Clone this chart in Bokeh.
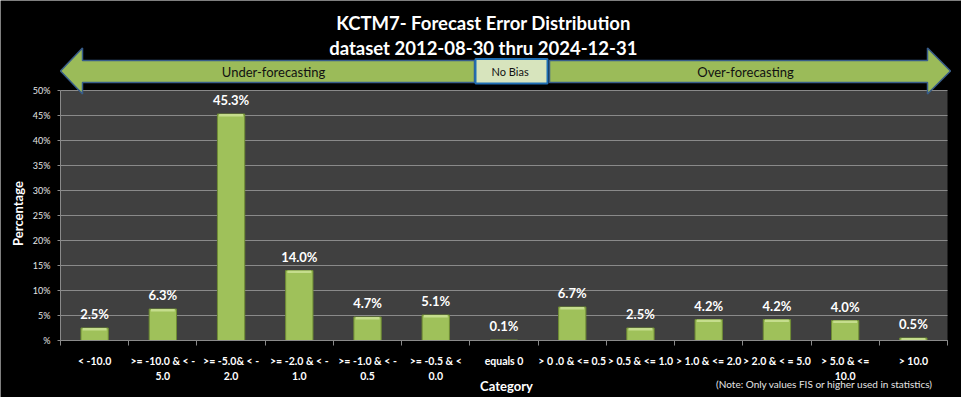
import math
from bokeh.plotting import figure
from bokeh.models import Range1d, LinearAxis, FixedTicker, Label, ColumnDataSource
from bokeh.embed import file_html
from bokeh.resources import INLINE
from bokeh.core.properties import value

# ---------------- data ----------------
categories = ["< -10.0", ">= -10.0 & < -\n5.0", ">= -5.0& < -\n2.0", ">= -2.0 & < -\n1.0",
              ">= -1.0 & < -\n0.5", ">= -0.5 & <\n0.0", "equals 0", "> 0 .0 & <= 0.5",
              "> 0.5 & <= 1.0", "> 1.0 & <= 2.0", "> 2.0 & < = 5.0", "> 5.0 & <=\n10.0", "> 10.0"]
percentages = [2.5, 6.3, 45.3, 14.0, 4.7, 5.1, 0.1, 6.7, 2.5, 4.2, 4.2, 4.0, 0.5]
y_ticks = [0, 5, 10, 15, 20, 25, 30, 35, 40, 45, 50]
y_tick_labels = ["%", "5%", "10%", "15%", "20%", "25%", "30%", "35%", "40%", "45%", "50%"]
title_lines = ["KCTM7- Forecast Error Distribution", "dataset 2012-08-30  thru 2024-12-31"]
arrow_left_text = "Under-forecasting"
arrow_right_text = "Over-forecasting"
no_bias_text = "No  Bias"
y_axis_title = "Percentage"
x_axis_title = "Category"
note_text = "(Note: Only values FIS or higher used in statistics)"

# ---------------- layout ----------------
W, H = 961, 397
PAGE = 0
n = len(categories)
plot_left_px, plot_right_px = 60, 947     # page px of plot area
plot_top_px, plot_bottom_px = 90, 340
unit_px = (plot_right_px - plot_left_px) / (2.0 * n)   # each category spans 2 x-units
px_per_pct = (plot_bottom_px - plot_top_px) / float(max(y_ticks))

def X(px):  # page pixel -> data x
    return (px - plot_left_px) / unit_px

def Y(py):  # page pixel -> data y
    return (plot_bottom_px - py) / px_per_pct

centers = [2 * i + 1 for i in range(n)]
bounds = [2 * i for i in range(n + 1)]
value_labels = [f"{v:.1f}%" for v in percentages]

FONT = "Lato"
AXIS_COLOR = "#8a8a8a"

p = figure(width=W, height=H,
           x_range=Range1d(X(PAGE), X(PAGE + W)), y_range=Range1d(Y(PAGE + H), Y(PAGE)),
           output_backend="svg", toolbar_location=None, title=None,
           x_axis_type=None, y_axis_type=None,
           min_border_left=0, min_border_right=0, min_border_top=0, min_border_bottom=0,
           background_fill_color="black", border_fill_color="black", outline_line_color=None)
p.grid.visible = False

# axes (drawn at the data origin)
xaxis = LinearAxis(ticker=FixedTicker(ticks=centers, minor_ticks=bounds),
                   major_label_overrides={c: lab for c, lab in zip(centers, categories)},
                   bounds=(0, 2 * n), fixed_location=0)
xaxis.axis_line_color = AXIS_COLOR
xaxis.major_tick_line_color = None
xaxis.major_tick_out = 0
xaxis.major_tick_in = 0
xaxis.minor_tick_line_color = AXIS_COLOR
xaxis.minor_tick_out = 5
xaxis.minor_tick_in = 0
xaxis.major_label_standoff = 9
xaxis.major_label_text_font = FONT
xaxis.major_label_text_font_style = "bold"
xaxis.major_label_text_font_size = "10.5px"
xaxis.major_label_text_color = "white"
xaxis.major_label_text_line_height = 1.25
p.add_layout(xaxis, "below")

yaxis = LinearAxis(ticker=FixedTicker(ticks=y_ticks, minor_ticks=[]),
                   major_label_overrides={t: l for t, l in zip(y_ticks, y_tick_labels)},
                   bounds=(0, max(y_ticks)), fixed_location=0)
yaxis.axis_line_color = AXIS_COLOR
yaxis.major_tick_line_color = AXIS_COLOR
yaxis.major_tick_out = 3
yaxis.major_tick_in = 0
yaxis.minor_tick_line_color = None
yaxis.major_label_standoff = 7
yaxis.major_label_text_font = FONT
yaxis.major_label_text_font_size = "9px"
yaxis.major_label_text_color = "#e6e6e6"
p.add_layout(yaxis, "left")

# plot area background + grid
p.quad(left=0, right=2 * n, bottom=0, top=max(y_ticks), fill_color="#404040", line_color=None)
p.segment(x0=[0] * len(y_ticks), x1=[2 * n] * len(y_ticks), y0=y_ticks, y1=y_ticks,
          line_color=AXIS_COLOR, line_width=1)

# bars
src = ColumnDataSource(dict(x=centers, top=percentages, label=value_labels,
                            bevel=[max(0, v - 0.5) for v in percentages]))
p.vbar(x="x", top="top", bottom=0, width=0.8, source=src,
       fill_color="#9fc15a", line_color="#6f8c35", line_width=1)
p.vbar(x="x", top="top", bottom="bevel", width=0.7, source=src,
       fill_color="#c5dd8c", line_color=None)
p.text(x="x", y="top", text="label", source=src, y_offset=-14,
       text_align="center", text_baseline="middle", text_color="white",
       text_font=value(FONT), text_font_style="bold", text_font_size="13px")

# decorative arrows (page pixel geometry)
head_top, head_bot = 47.5, 93.5
body_top, body_bot = 60, 82
lx = [60, 82, 82, 474, 474, 82, 82]
ly = [70.5, head_top, body_top, body_top, body_bot, body_bot, head_bot]
rx = [950, 927, 927, 549, 549, 927, 927]
p.patch([X(v) for v in lx], [Y(v) for v in ly], fill_color="#9BBB59", line_color="#385D8A", line_width=1.5)
p.patch([X(v) for v in rx], [Y(v) for v in ly], fill_color="#9BBB59", line_color="#385D8A", line_width=1.5)
p.quad(left=X(475), right=X(547), top=Y(58.5), bottom=Y(83), fill_color="#D7E4BD",
       line_color="#1F6EB4", line_width=2)

def add_label(text, px, py, size, bold=False, color="white", angle=0.0, align="center"):
    p.add_layout(Label(x=X(px), y=Y(py), text=text, text_font=FONT, text_font_size=size,
                       text_font_style="bold" if bold else "normal", text_color=color,
                       text_align=align, text_baseline="middle", angle=angle))

add_label(title_lines[0], 483, 22, "18.5px", bold=True)
add_label(title_lines[1], 485, 47, "18.5px", bold=True)
add_label(arrow_left_text, 273, 71, "13px", color="#111111")
add_label(arrow_right_text, 745, 71, "13px", color="#111111")
add_label(no_bias_text, 511, 71, "11px", color="#111111")
add_label(y_axis_title, 17, 213, "13px", bold=True, angle=math.pi / 2)
add_label(x_axis_title, 506, 385, "13px", bold=True)
add_label(note_text, 824, 383, "10px", color="#e6e6e6")

html = file_html(p, INLINE)
html = html.replace("<body>", '<body style="background-color:#000000;">', 1)
open("out.html", "w").write(html)
